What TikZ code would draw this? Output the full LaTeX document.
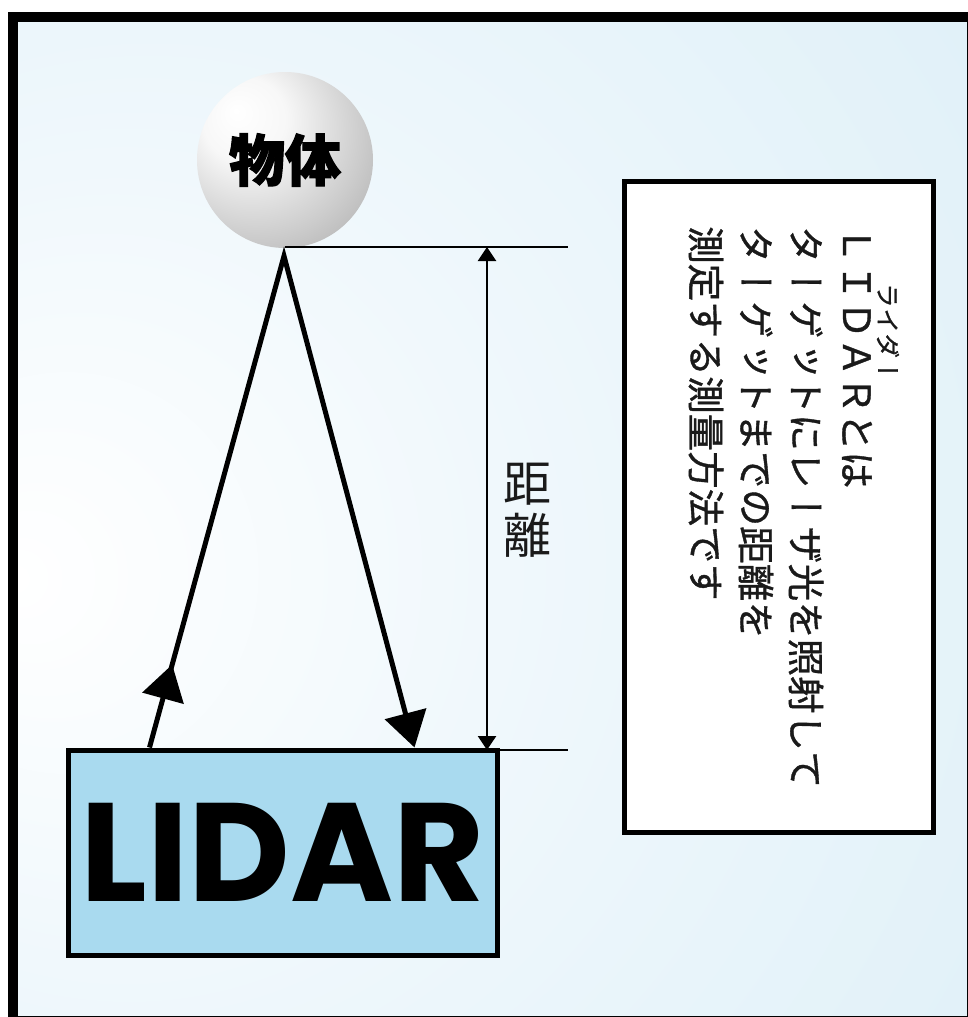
\documentclass[tikz,border=0pt]{standalone}
\usepackage{fontspec}
\usetikzlibrary{arrows.meta,decorations.markings}
\newfontfamily\jp{Noto Sans CJK JP}
\newfontfamily\jpheavy[FakeBold=2]{Noto Sans CJK JP}
\newfontfamily\jpv[Vertical=RotatedGlyphs,RawFeature={+vert},FakeBold=1]{Noto Sans CJK JP}
\newfontfamily\lidarfont{Poppins}
\definecolor{bgA}{RGB}{240,248,252}
\definecolor{bgB}{RGB}{219,238,247}
\definecolor{bgC}{RGB}{200,230,243}
\definecolor{lidarblue}{RGB}{169,218,239}
\definecolor{inkc}{RGB}{26,26,26}
\pgfdeclareradialshading{bgshade}{\pgfpoint{-25bp}{-3bp}}{color(0bp)=(white); color(20bp)=(bgA); color(55bp)=(bgB); color(90bp)=(bgC)}
\pgfdeclareradialshading{sphereshade}{\pgfpoint{-14bp}{14bp}}{color(0bp)=(white); color(12bp)=(white!97!black); color(30bp)=(white!80!black); color(50bp)=(white!60!black); color(70bp)=(white!45!black)}
\tikzset{
  objball/.style={circle, minimum size=176pt, inner sep=0pt, shading=sphereshade},
  lidarbox/.style={draw, line width=5pt, fill=lidarblue, minimum width=429pt, minimum height=205pt, inner sep=0pt},
  notebox/.style={draw, line width=5pt, fill=white, minimum width=309pt, minimum height=651pt, inner sep=0pt},
  beam/.style={line width=5pt},
  bigtip/.tip={Triangle[length=35pt,width=42pt]},
  smalltip/.tip={Triangle[length=14pt,width=18pt]},
  dimline/.style={line width=2.5pt, smalltip-smalltip},
  extline/.style={line width=2.5pt},
  vtext/.style={rotate=-90, anchor=west, inner sep=0pt, text=inkc, font=\jpv\fontsize{37.5}{37.5}\selectfont},
}
\begin{document}
\begin{tikzpicture}[x=1pt,y=-1pt]
\useasboundingbox (0,0) rectangle (968,1017);
\fill[white] (0,0) rectangle (968,1017);
\shade[shading=bgshade] (13,17) rectangle (972,1021);
\draw[line width=10pt] (13,17) rectangle (972,1021);

% object sphere
\node[objball, font=\jpheavy\bfseries\fontsize{56}{56}\selectfont] (obj) at (285,160) {物体};
\coordinate (apex) at (284,256);

% LIDAR box
\node[lidarbox, font=\lidarfont\bfseries\fontsize{140}{140}\selectfont] (lidar) at (282.5,852.5) {LIDAR};
\coordinate (la) at ([xshift=84pt]lidar.north west);
\coordinate (lb) at ([xshift=349pt]lidar.north west);

% beams
\draw[beam, -bigtip, postaction={decorate},
  decoration={markings, mark=at position 86pt with {\arrow{bigtip}}}]
  (la) -- (apex) -- (lb);

% dimension
\coordinate (etop0) at (285,247);
\coordinate (etop1) at (568,247);
\coordinate (ebot0) at (497,750);
\coordinate (ebot1) at (568,750);
\coordinate (dtop) at (487,247);
\coordinate (dbot) at (487,750);
\draw[extline] (etop0) -- (etop1);
\draw[extline] (ebot0) -- (ebot1);
\draw[dimline] (dtop) -- (dbot);
\node[font=\jp\fontsize{48}{52}\selectfont, align=center, text=inkc, inner sep=0pt] (dist) at (527,510) {距\\離};

% note box
\node[notebox] (note) at (778.5,506.5) {};
\node[vtext] (c1) at (857,226) {ＬＩＤＡＲとは};
\node[vtext] (c2) at (806,226) {ターゲットにレーザ光を照射して};
\node[vtext] (c3) at (756,226) {ターゲットまでの距離を};
\node[vtext] (c4) at (706,226) {測定する測量方法です};
\node[vtext, font=\jpv\fontsize{25}{25}\selectfont] (ruby) at (888,283) {ライダー};
\end{tikzpicture}
\end{document}
